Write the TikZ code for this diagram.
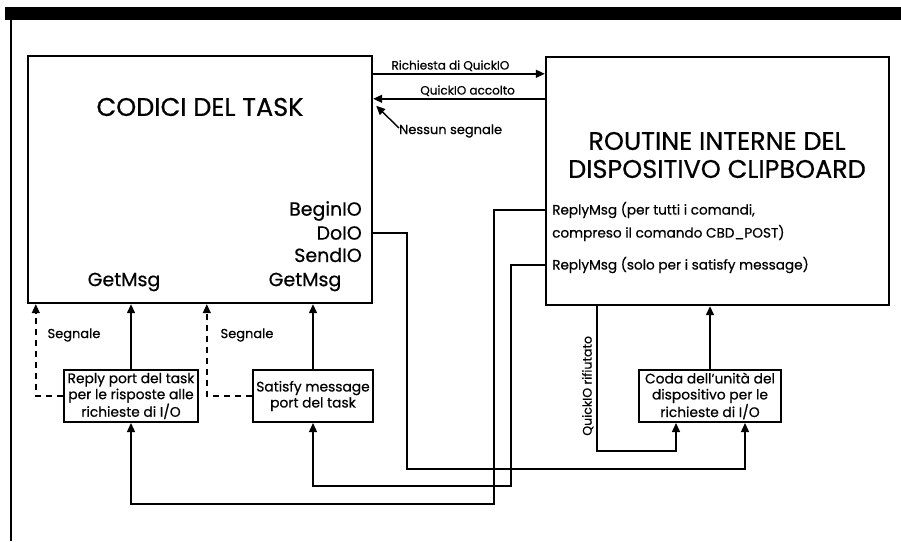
\documentclass[tikz,border=0pt]{standalone}
\usepackage{fontspec}
\setmainfont{Poppins}[FakeBold=0.6]
\usetikzlibrary{arrows.meta,positioning,calc}
\tikzset{
  bigbox/.style={draw,line width=2.4pt,inner sep=0pt},
  portbox/.style={draw,line width=2pt,minimum height=52pt,inner sep=0pt,
    align=center,font=\fontsize{13.8}{16}\selectfont},
  flow/.style={-{Triangle[length=9pt,width=8pt]},line width=1.4pt},
  signal/.style={flow,dash pattern=on 6pt off 5pt},
  iotext/.style={font=\fontsize{19}{22}\selectfont,inner sep=0pt},
  replytext/.style={font=\fontsize{13.6}{16}\selectfont,inner sep=0pt,anchor=west},
  tagtext/.style={font=\fontsize{12}{14}\selectfont,inner sep=2pt}
}
\begin{document}
\begin{tikzpicture}[x=1pt,y=-1pt,
  title/.style={font=\fontsize{25.5}{28}\selectfont,align=center,inner sep=0pt}
]
  \useasboundingbox (0,0) rectangle (901,541);
  % page frame
  \fill (5,7) rectangle (901,20);
  \draw[line width=1.5pt] (11,20) -- (11,541);

  % main blocks
  \node[bigbox,minimum width=344pt,minimum height=247pt] (task) at (200,179.5) {};
  \node[bigbox,minimum width=343pt,minimum height=248pt] (device) at (717.5,181) {};
  \node[title] (tasktitle) at (200,107) {CODICI DEL TASK};
  \node[title] (devicetitle) at (717,155) {ROUTINE INTERNE DEL\\DISPOSITIVO CLIPBOARD};

  % calls on the task side
  \node[iotext,anchor=east] (beginio) at (362,211) {BeginIO};
  \node[iotext,anchor=east] (doio) at (362,233) {DoIO};
  \node[iotext,anchor=east] (sendio) at (362,255) {SendIO};
  \node[iotext] (getmsgreply) at (124,282) {GetMsg};
  \node[iotext] (getmsgsatisfy) at (305,282) {GetMsg};

  % replies on the device side
  \node[replytext] (replyall) at (552,210) {ReplyMsg (per tutti i comandi,};
  \node[replytext] (replyallcont) at (552,233) {compreso il comando CBD\_POST)};
  \node[replytext] (replysat) at (552,265) {ReplyMsg (solo per i satisfy message)};

  % ports
  \node[portbox,minimum width=134pt] (reply) at (131,396)
    {Reply port del task\\per le risposte alle\\richieste di I/O};
  \node[portbox,minimum width=120pt] (satisfy) at (313,396)
    {Satisfy message\\port del task};
  \node[portbox,minimum width=142pt] (coda) at (710,396)
    {Coda dell’unità del\\dispositivo per le\\richieste di I/O};

  % bends of the long connectors
  \coordinate (allbend) at (494,504);
  \coordinate (satbend) at (511,486);
  \coordinate (doiobend) at (407,469);
  \coordinate (rejbend) at (597,451);

  % QuickIO handshake
  \draw[flow] ([yshift=-19pt]task.north east) --
    node[tagtext,above,pos=0.45] {Richiesta di QuickIO}
    ([yshift=-19pt]task.north east -| device.west);
  \draw[flow] ([yshift=-44pt]task.north east -| device.west) --
    node[tagtext,above,pos=0.45] {QuickIO accolto}
    ([yshift=-44pt]task.north east);
  \node[tagtext,anchor=west,inner sep=0pt,font=\fontsize{13}{15}\selectfont] (nosignal) at (399,131) {Nessun segnale};
  \draw[flow] ([yshift=3pt]nosignal.west) -- ([xshift=3pt,yshift=-51pt]task.north east);

  % messages back to the task
  \draw[flow] (reply.north) -- (reply.north |- task.south);
  \draw[flow] (satisfy.north) -- (satisfy.north |- task.south);
  \draw[signal] (reply.west) -| ([xshift=9pt]task.south west);
  \draw[signal] (satisfy.west) -| ([xshift=180pt]task.south west);
  \node[font=\fontsize{13}{15}\selectfont] (signalreply) at (74,335) {Segnale};
  \node[font=\fontsize{13}{15}\selectfont] (signalsatisfy) at (247,335) {Segnale};

  % device queue
  \draw[flow] (coda.north) -- (coda.north |- device.south);
  \draw[flow] (device.south -| rejbend) --
    node[pos=0.55,rotate=90,anchor=south,font=\fontsize{12.5}{14}\selectfont,inner sep=3pt] {QuickIO rifiutato}
    (rejbend) -| ([xshift=-34pt]coda.south);
  \draw[flow] (doio.east -| task.east) -| (doiobend) -| ([xshift=35pt]coda.south);

  % replies routed to the ports
  \draw[flow] (replyall.west -| device.west) -| (allbend) -| (reply.south);
  \draw[flow] (replysat.west -| device.west) -| (satbend) -| (satisfy.south);
\end{tikzpicture}
\end{document}
